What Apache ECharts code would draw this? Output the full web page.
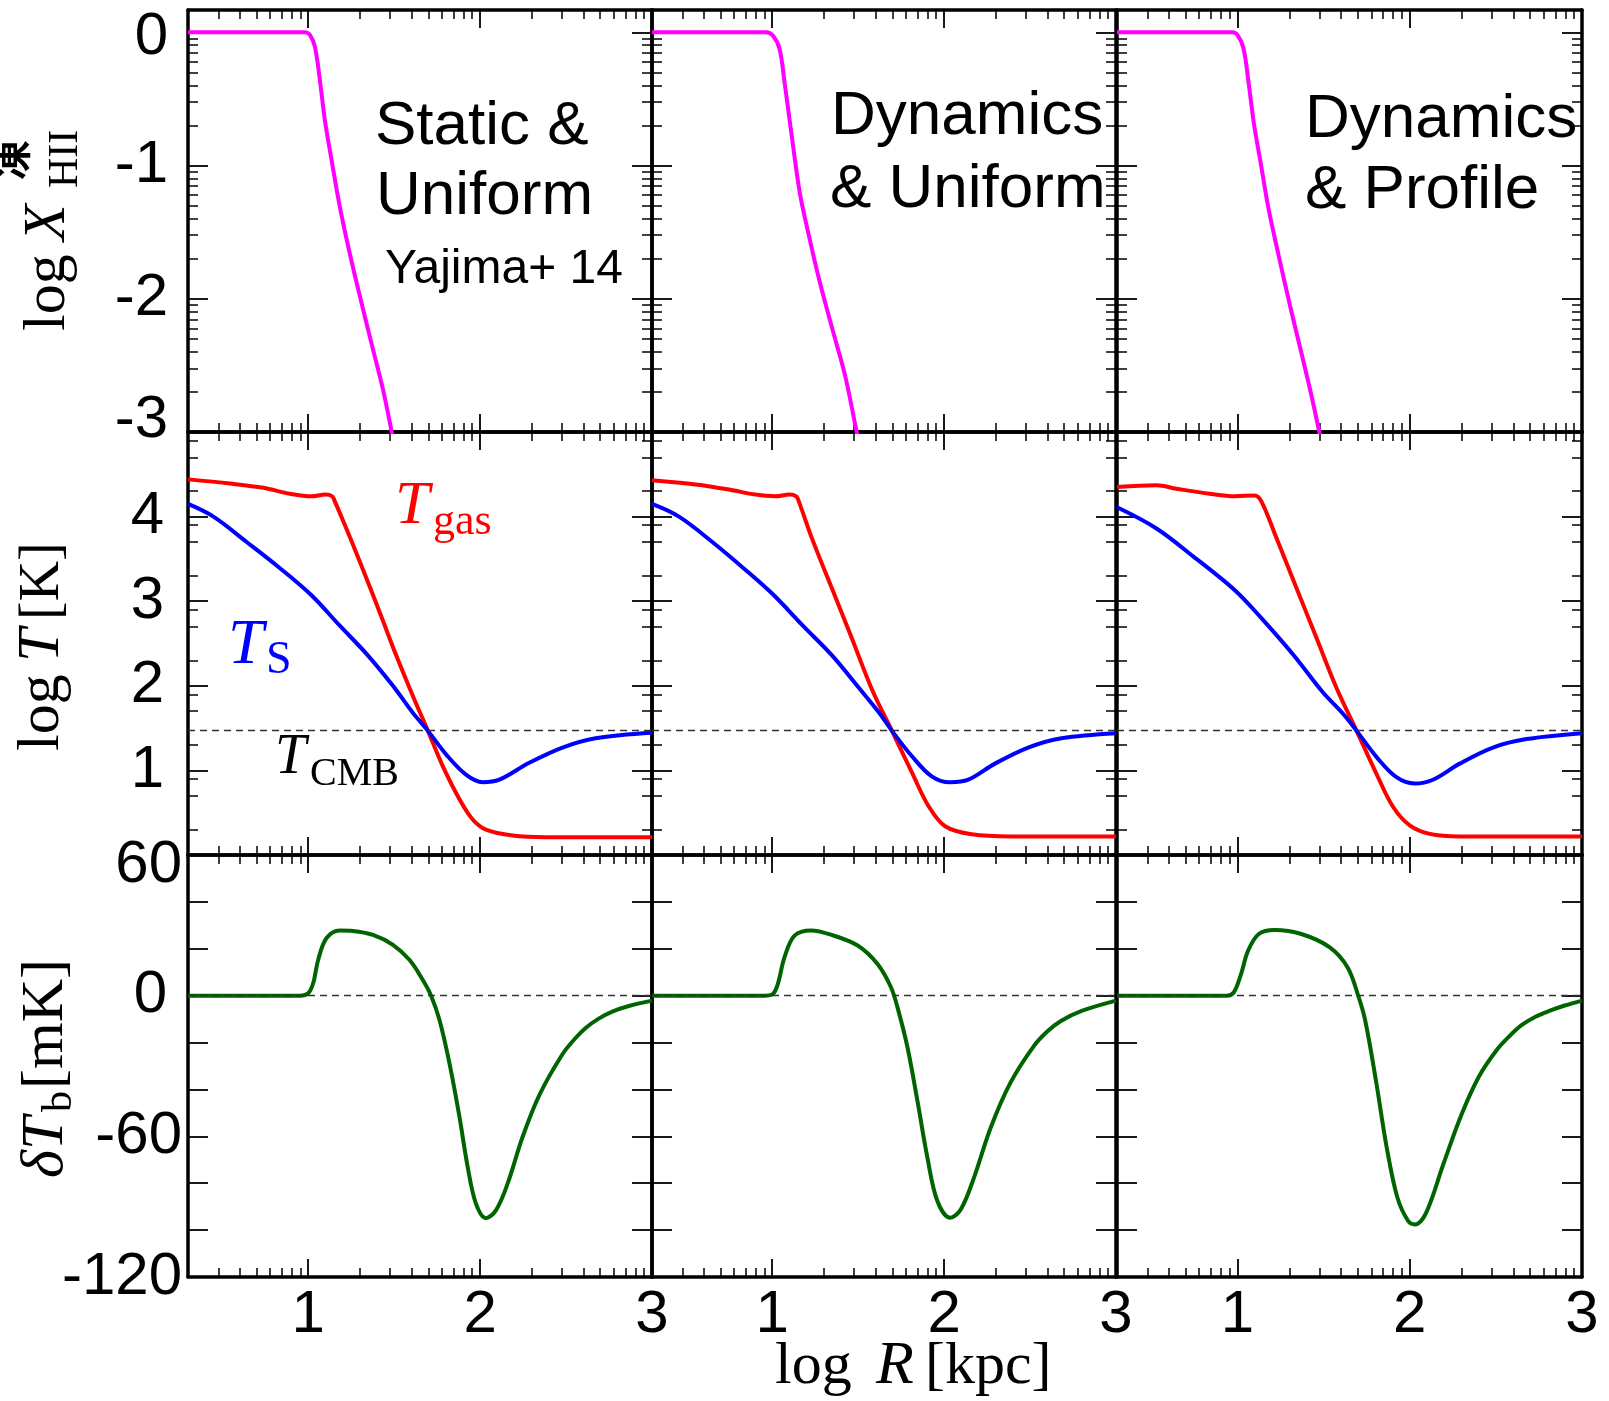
<!DOCTYPE html>
<html>
<head>
<meta charset="utf-8">
<title>Ionization, temperature and 21cm profiles</title>
<script src="https://cdn.jsdelivr.net/npm/echarts@6/dist/echarts.min.js"></script>
<style>
  html, body { margin: 0; padding: 0; background: #fff; }
  #chart { width: 1609px; height: 1401px; }
</style>
</head>
<body>
<div id="chart"></div>
<script>
// ---- data: [log R (kpc), value] ----
// log X_HII
const xhiiStatic = [[0.301,0],[0.6,0],[0.9,0],[0.981,0],[1.010,-0.02],[1.039,-0.108],[1.068,-0.358],[1.097,-0.658],[1.136,-0.958],[1.184,-1.308],[1.242,-1.66],[1.310,-2.03],[1.377,-2.38],[1.435,-2.68],[1.483,-2.98],[1.50,-3.1]];
const xhiiDynUni = [[0.301,0],[0.6,0],[0.965,0],[1.004,-0.025],[1.043,-0.125],[1.072,-0.375],[1.111,-0.75],[1.160,-1.2],[1.209,-1.5],[1.277,-1.875],[1.355,-2.25],[1.424,-2.575],[1.492,-3.0],[1.51,-3.1]];
const xhiiDynPro = [[0.301,0],[0.6,0],[0.97,0],[1.0,-0.02],[1.035,-0.12],[1.065,-0.38],[1.095,-0.68],[1.135,-0.98],[1.18,-1.32],[1.24,-1.68],[1.305,-2.05],[1.37,-2.4],[1.425,-2.7],[1.475,-3.0],[1.49,-3.1]];
// log T_gas
const tgasStatic = [[0.301,4.44],[0.546,4.39],[0.739,4.34],[0.894,4.27],[1.019,4.24],[1.10,4.26],[1.14,4.24],[1.155,4.18],[1.222,3.86],[1.300,3.47],[1.416,2.87],[1.512,2.36],[1.609,1.88],[1.696,1.47],[1.783,1.05],[1.880,0.66],[1.957,0.42],[2.034,0.30],[2.189,0.23],[2.382,0.21],[3.0,0.21]];
const tgasDynUni = [[0.301,4.43],[0.555,4.38],[0.749,4.32],[0.903,4.26],[1.019,4.24],[1.10,4.26],[1.14,4.24],[1.155,4.18],[1.232,3.74],[1.348,3.15],[1.464,2.56],[1.580,1.96],[1.696,1.47],[1.812,0.98],[1.909,0.58],[2.006,0.34],[2.161,0.245],[2.393,0.22],[3.0,0.22]];
const tgasDynPro = [[0.301,4.35],[0.530,4.37],[0.646,4.33],[0.839,4.27],[0.985,4.24],[1.10,4.25],[1.139,4.18],[1.226,3.75],[1.342,3.16],[1.458,2.57],[1.574,1.98],[1.691,1.47],[1.807,0.96],[1.903,0.57],[2.0,0.35],[2.116,0.25],[2.29,0.22],[3.0,0.22]];
// log T_S
const tsStatic = [[0.301,4.15],[0.449,4.0],[0.642,3.70],[0.836,3.39],[1.019,3.07],[1.184,2.71],[1.338,2.38],[1.493,2.0],[1.609,1.68],[1.696,1.47],[1.802,1.19],[1.918,0.95],[2.015,0.86],[2.112,0.89],[2.286,1.09],[2.479,1.27],[2.672,1.38],[3.0,1.445]];
const tsDynUni = [[0.301,4.15],[0.458,4.0],[0.652,3.70],[0.845,3.37],[1.010,3.07],[1.174,2.72],[1.348,2.36],[1.503,1.98],[1.619,1.69],[1.696,1.47],[1.812,1.17],[1.928,0.93],[2.035,0.86],[2.141,0.89],[2.296,1.08],[2.489,1.27],[2.683,1.38],[3.0,1.44]];
const tsDynPro = [[0.301,4.11],[0.530,3.86],[0.743,3.53],[0.985,3.13],[1.130,2.82],[1.323,2.37],[1.497,1.92],[1.613,1.67],[1.691,1.47],[1.807,1.16],[1.923,0.92],[2.029,0.845],[2.135,0.89],[2.29,1.08],[2.483,1.27],[2.677,1.37],[3.0,1.44]];
// delta T_b (mK)
const dtbStatic = [[0.301,0],[0.952,0],[1.0,1.0],[1.029,5.3],[1.058,15.2],[1.106,24.5],[1.184,27.8],[1.261,27.6],[1.377,25.9],[1.493,21.7],[1.590,15.2],[1.667,6.7],[1.715,0],[1.764,-10.4],[1.822,-28.9],[1.880,-51.7],[1.928,-73.1],[1.976,-88.7],[2.034,-94.9],[2.092,-91.6],[2.160,-80.2],[2.247,-60.3],[2.344,-42.5],[2.479,-25],[2.55,-18.5],[2.614,-13.8],[2.69,-9.8],[2.769,-6.8],[2.87,-4.3],[3.0,-2.1]];
const dtbDynUni = [[0.301,0],[0.955,0],[1.004,0.7],[1.033,5],[1.072,16.4],[1.130,25.6],[1.226,27.8],[1.342,26],[1.497,21.4],[1.613,13.5],[1.691,3.6],[1.729,-5],[1.787,-22],[1.845,-44.9],[1.903,-69.1],[1.961,-87.6],[2.035,-94.7],[2.097,-91.2],[2.174,-77.6],[2.271,-56.3],[2.387,-37],[2.522,-21.5],[2.6,-15.3],[2.677,-10.9],[2.8,-6.5],[3.0,-2.1]];
const dtbDynPro = [[0.301,0],[0.938,0],[0.979,1.4],[1.021,9.2],[1.062,19.2],[1.124,26.3],[1.216,28],[1.371,26.3],[1.536,20.6],[1.639,12.1],[1.701,0],[1.742,-10.7],[1.804,-36.2],[1.866,-64.6],[1.928,-86],[1.990,-96],[2.031,-97.6],[2.093,-93],[2.196,-71.7],[2.299,-51],[2.402,-34.5],[2.505,-23.2],[2.58,-17.2],[2.649,-12.6],[2.73,-9],[2.814,-6.4],[2.9,-4.2],[3.0,-2.1]];
// log T_CMB level per column
const tcmbLog = [1.475, 1.478, 1.478];

// ---- axes: ranges, ticks, labels ----
const xMin = Math.log10(2), xMax = 3;
const xMajor = [1, 2, 3];
const xLabels = [1, 2, 3];
const xMinor = [];
for (let n = 0; n < 3; n++) for (let k = 2; k <= 9; k++) {
  const v = n + Math.log10(k);
  if (v > xMin + 0.001 && v < xMax) xMinor.push(v);
}
const yTopMinor = [];
for (let n = -3; n < 0; n++) for (let k = 2; k <= 9; k++) yTopMinor.push(n + Math.log10(k));
const yMidMinor = [];
for (let n = 0; n < 5; n++) [0.3, 0.7, 0.9].forEach(f => yMidMinor.push(n + f));

const rows = [
  { min: -3, max: 0.167, major: [-3, -2, -1, 0], minor: yTopMinor, labels: [0, -1, -2, -3], margin: 20 },
  { min: 0, max: 5, major: [1, 2, 3, 4], minor: yMidMinor, labels: [1, 2, 3, 4], margin: 24 },
  { min: -120, max: 60, major: [-100, -80, -60, -40, -20, 0, 20, 40], minor: [], labels: [60, 0, -60, -120], margin: 6 }
];

// ---- layout ----
const colLeft = [188, 652, 1117];
const colWidth = [464, 464, 465];
const rowTop = [10, 432, 855];
const rowHeight = [422, 423, 422];

const SANS = '"Liberation Sans", Arial, Helvetica, sans-serif';
const SERIF = '"Liberation Serif", "DejaVu Serif", serif';
const lbl = { fontSize: 60, fontFamily: SANS, color: '#000' };

function tickStyle(w) { return { color: '#000', width: w }; }
const frameLine = { show: true, onZero: false, lineStyle: { color: '#000', width: 3.5 } };
const noLine = { show: false, onZero: false };

const grids = [], xAxes = [], yAxes = [], series = [];

function yFormatter(row) {
  return function (v) {
    if (row === 0 && v === -3) return '{u|-3}';
    if (row === 0 && v === 0) return '{d5|0}';
    if (row === 2 && v === 60) return '{d|60}';
    if (row === 2 && v === 0) return '{l|0}';
    return '{n|' + v + '}';
  };
}
const yRich = {
  n: lbl,
  u: Object.assign({ padding: [0, 0, 24, 0] }, lbl),
  d5: Object.assign({ padding: [10, 0, 0, 0] }, lbl),
  d: Object.assign({ padding: [20, 0, 0, 0] }, lbl),
  l: Object.assign({ padding: [0, 15, 0, 0] }, lbl)
};

for (let r = 0; r < 3; r++) {
  for (let c = 0; c < 3; c++) {
    const g = r * 3 + c;
    grids.push({ left: colLeft[c], top: rowTop[r], width: colWidth[c], height: rowHeight[r], outerBoundsMode: 'none', containLabel: false });
    const xb = { gridIndex: g, type: 'value', min: xMin, max: xMax, splitLine: { show: false }, axisLabel: { show: false } };
    xAxes.push(Object.assign({}, xb, {
      position: 'bottom', axisLine: frameLine,
      axisTick: { show: true, inside: true, length: 18, customValues: xMajor, lineStyle: tickStyle(1.8) },
      axisLabel: r === 2 ? Object.assign({ show: true, customValues: xLabels, margin: 8, formatter: v => String(v) }, lbl) : { show: false }
    }));
    xAxes.push(Object.assign({}, xb, { position: 'bottom', axisLine: noLine,
      axisTick: { show: true, inside: true, length: 9, customValues: xMinor, lineStyle: tickStyle(1.5) } }));
    xAxes.push(Object.assign({}, xb, { position: 'top', axisLine: frameLine,
      axisTick: { show: true, inside: true, length: 18, customValues: xMajor, lineStyle: tickStyle(1.8) } }));
    xAxes.push(Object.assign({}, xb, { position: 'top', axisLine: noLine,
      axisTick: { show: true, inside: true, length: 9, customValues: xMinor, lineStyle: tickStyle(1.5) } }));

    const R = rows[r];
    const yb = { gridIndex: g, type: 'value', min: R.min, max: R.max, splitLine: { show: false }, axisLabel: { show: false } };
    yAxes.push(Object.assign({}, yb, {
      position: 'left', axisLine: frameLine,
      axisTick: { show: true, inside: true, length: 20, customValues: R.major, lineStyle: tickStyle(1.8) },
      axisLabel: c === 0 ? { show: true, customValues: R.labels, margin: R.margin, formatter: yFormatter(r), rich: yRich } : { show: false }
    }));
    yAxes.push(Object.assign({}, yb, { position: 'left', axisLine: noLine,
      axisTick: { show: R.minor.length > 0, inside: true, length: 10, customValues: R.minor, lineStyle: tickStyle(1.5) } }));
    yAxes.push(Object.assign({}, yb, { position: 'right', axisLine: frameLine,
      axisTick: { show: true, inside: true, length: 20, customValues: R.major, lineStyle: tickStyle(1.8) } }));
    yAxes.push(Object.assign({}, yb, { position: 'right', axisLine: noLine,
      axisTick: { show: R.minor.length > 0, inside: true, length: 10, customValues: R.minor, lineStyle: tickStyle(1.5) } }));
  }
}

function curve(g, data, color, extra) {
  return Object.assign({
    type: 'line', xAxisIndex: g * 4, yAxisIndex: g * 4, data: data,
    showSymbol: false, symbol: 'none', smooth: 0.35,
    lineStyle: { color: color, width: 4 }, silent: true, z: 3
  }, extra || {});
}
function dashed(v) {
  return {
    silent: true, symbol: ['none', 'none'], label: { show: false },
    lineStyle: { type: [7, 5], color: '#333', width: 1.3 },
    emphasis: { disabled: true }, data: [{ yAxis: v }]
  };
}

const xhii = [xhiiStatic, xhiiDynUni, xhiiDynPro];
const tgas = [tgasStatic, tgasDynUni, tgasDynPro];
const ts = [tsStatic, tsDynUni, tsDynPro];
const dtb = [dtbStatic, dtbDynUni, dtbDynPro];
for (let c = 0; c < 3; c++) {
  series.push(curve(c, xhii[c], '#ff00ff'));
  series.push(curve(3 + c, tgas[c], '#ff0000', { markLine: dashed(tcmbLog[c]) }));
  series.push(curve(3 + c, ts[c], '#0000ff'));
  series.push(curve(6 + c, dtb[c], '#006400', { markLine: dashed(0) }));
}

// ---- texts ----
function txt(x, y, s, o) {
  return {
    type: 'text', x: x, y: y, rotation: o.rot || 0, silent: true, z: 10,
    style: {
      text: s, fill: o.color || '#000', fontSize: o.size, fontFamily: o.family || SERIF,
      fontStyle: o.italic ? 'italic' : 'normal', fontWeight: o.weight || 'normal',
      align: o.align || 'left', verticalAlign: 'middle'
    }
  };
}
const UP = Math.PI / 2;
const graphics = [
  // panel titles
  txt(375, 127, 'Static &', { size: 62, family: SANS }),
  txt(376, 197, 'Uniform', { size: 62, family: SANS }),
  txt(385, 270, 'Yajima+ 14', { size: 48, family: SANS }),
  txt(831, 117, 'Dynamics', { size: 62, family: SANS }),
  txt(830, 190, '& Uniform', { size: 62, family: SANS }),
  txt(1305, 120, 'Dynamics', { size: 62, family: SANS }),
  txt(1305, 191, '& Profile', { size: 62, family: SANS }),
  // curve labels
  txt(395, 507, 'T', { size: 62, italic: true, color: '#ff0000' }),
  txt(433, 522, 'gas', { size: 44, color: '#ff0000' }),
  txt(228, 646, 'T', { size: 64, italic: true, color: '#0000ff' }),
  txt(266, 661, 'S', { size: 46, color: '#0000ff' }),
  txt(275, 758, 'T', { size: 56, italic: true }),
  txt(310, 774, 'CMB', { size: 40 }),
  // y titles
  txt(11, 160, '凍', { size: 40, rot: UP, family: '"Noto Sans CJK JP", sans-serif', weight: 'bold', align: 'center' }),
  txt(48, 331, 'log', { size: 60, rot: UP }),
  txt(48, 241, 'X', { size: 60, rot: UP, italic: true }),
  txt(66, 188, 'HII', { size: 42, rot: UP }),
  txt(42, 751, 'log', { size: 60, rot: UP }),
  txt(42, 662, 'T', { size: 60, rot: UP, italic: true }),
  txt(43, 620, '[K]', { size: 56, rot: UP }),
  txt(46, 1178, 'δ', { size: 60, rot: UP, italic: true }),
  txt(46, 1150, 'T', { size: 60, rot: UP, italic: true }),
  txt(60, 1112, 'b', { size: 42, rot: UP }),
  txt(46, 1089, '[mK]', { size: 60, rot: UP }),
  // x title
  txt(775, 1367, 'log', { size: 60 }),
  txt(876, 1367, 'R', { size: 62, italic: true }),
  txt(925, 1367, '[kpc]', { size: 60 })
];

const chart = echarts.init(document.getElementById('chart'), null, { renderer: 'canvas' });
chart.setOption({
  animation: false,
  backgroundColor: '#fff',
  textStyle: { fontFamily: SANS },
  grid: grids,
  xAxis: xAxes,
  yAxis: yAxes,
  series: series,
  graphic: graphics
});
</script>
</body>
</html>
